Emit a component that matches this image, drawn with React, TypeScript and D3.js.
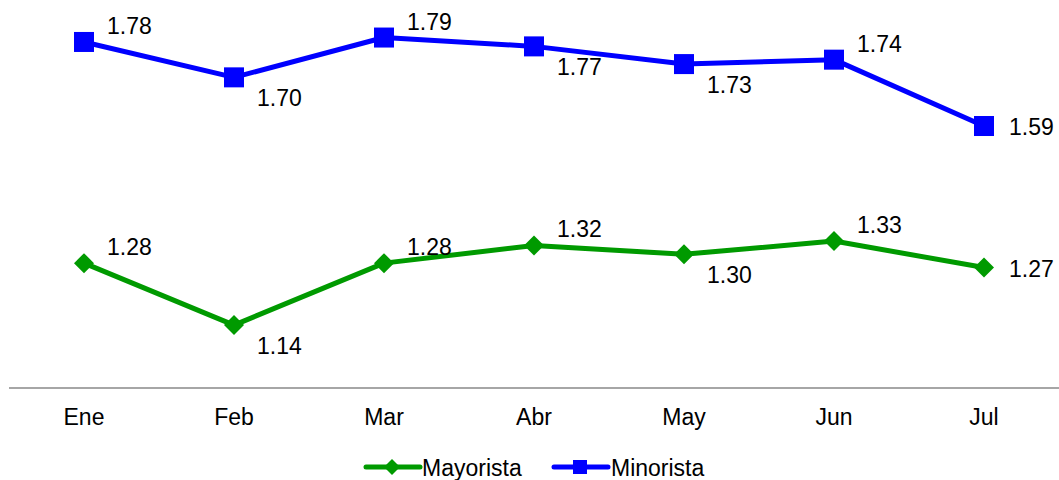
import React from 'react'
import * as d3 from 'd3'

const months = ['Ene', 'Feb', 'Mar', 'Abr', 'May', 'Jun', 'Jul']
const mayorista = [1.28, 1.14, 1.28, 1.32, 1.30, 1.33, 1.27]
const minorista = [1.78, 1.70, 1.79, 1.77, 1.73, 1.74, 1.59]
// where each value label sits relative to its point
const mayoristaLabelPos = ['above', 'below', 'above', 'above', 'below', 'above', 'right']
const minoristaLabelPos = ['above', 'below', 'above', 'below', 'below', 'above', 'right']

const width = 1059
const height = 480
const font = 'Liberation Sans, Arial, sans-serif'
const fontSize = 23
const green = '#009a00'
const blue = '#0000ff'

const xScale = d3.scaleBand().domain(months).range([9, 1059])
const xc = (m: string) => (xScale(m) as number) + xScale.bandwidth() / 2
const yScale = d3.scaleLinear().domain([1, 1.85]).range([387, 11])

const line = d3.line<number>()
  .x((d, i) => xc(months[i]))
  .y((d) => yScale(d))

function labelXY(x: number, y: number, pos: string) {
  if (pos === 'above') return { x: x + 23, y: y - 16 }
  if (pos === 'below') return { x: x + 23, y: y + 21 }
  return { x: x + 25, y: y + 1 }
}

function Diamond({ x, y, r }: { x: number; y: number; r: number }) {
  return <path d={`M${x},${y - r}L${x + r},${y}L${x},${y + r}L${x - r},${y}Z`} fill={green} />
}

export default function App() {
  const series = [
    { name: 'Mayorista', values: mayorista, pos: mayoristaLabelPos, color: green, marker: 'diamond' },
    { name: 'Minorista', values: minorista, pos: minoristaLabelPos, color: blue, marker: 'square' },
  ]
  return (
    <svg width={width} height={height} style={{ position: 'absolute', left: 0, top: 0 }} fontFamily={font}>
      <line x1={9} x2={1059} y1={388} y2={388} stroke="#a6a6a6" strokeWidth={2} />
      {months.map((m) => (
        <text key={m} x={xc(m)} y={417} fontSize={fontSize} textAnchor="middle" dominantBaseline="central" fill="#000">{m}</text>
      ))}
      {series.map((s) => (
        <g key={s.name}>
          <path d={line(s.values) || ''} fill="none" stroke={s.color} strokeWidth={5} strokeLinejoin="round" />
          {s.values.map((v, i) => {
            const x = xc(months[i])
            const y = yScale(v)
            const l = labelXY(x, y, s.pos[i])
            return (
              <g key={i}>
                {s.marker === 'square'
                  ? <rect x={x - 10} y={y - 10} width={20} height={20} fill={blue} />
                  : <Diamond x={x} y={y} r={10} />}
                <text x={l.x} y={l.y} fontSize={fontSize} dominantBaseline="central" fill="#000">{v.toFixed(2)}</text>
              </g>
            )
          })}
        </g>
      ))}
      <g>
        <line x1={366} x2={420} y1={467} y2={467} stroke={green} strokeWidth={5} strokeLinecap="round" />
        <Diamond x={392} y={467} r={8} />
        <text x={422} y={468} fontSize={fontSize} dominantBaseline="central">Mayorista</text>
        <line x1={554} x2={608} y1={467} y2={467} stroke={blue} strokeWidth={5} strokeLinecap="round" />
        <rect x={573} y={460} width={14} height={14} fill={blue} />
        <text x={611} y={468} fontSize={fontSize} dominantBaseline="central">Minorista</text>
      </g>
    </svg>
  )
}
